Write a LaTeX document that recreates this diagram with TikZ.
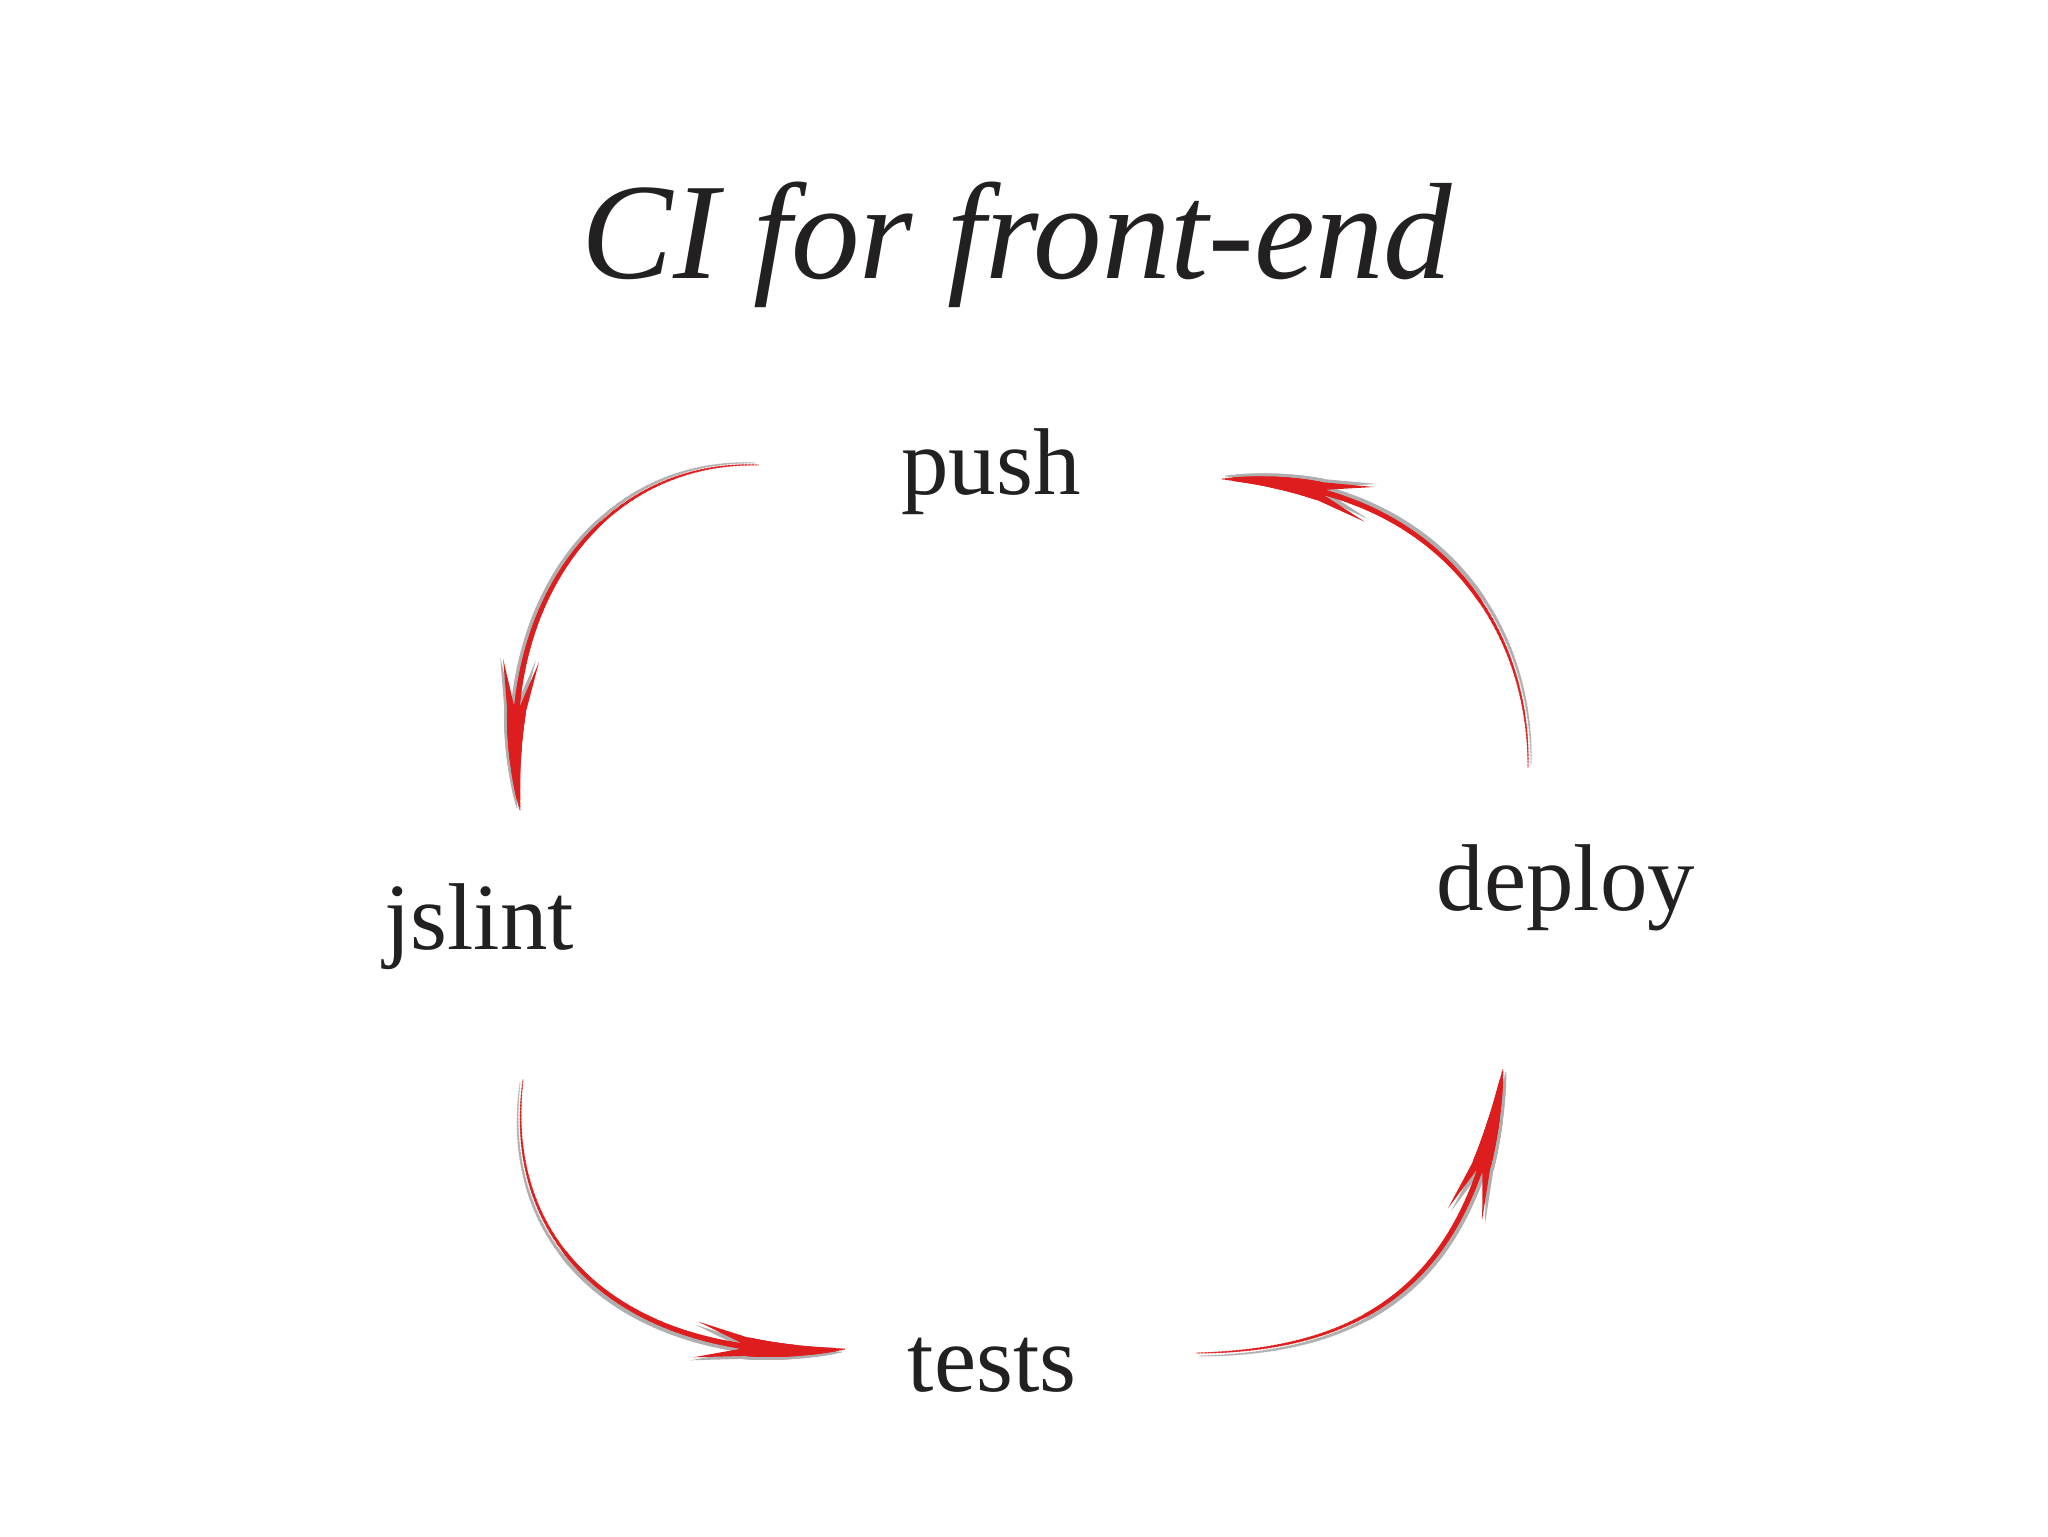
\documentclass[tikz,border=0pt]{standalone}
\usepackage{fontspec}
\setmainfont{Liberation Serif}
\usetikzlibrary{decorations.markings}
\definecolor{arrowred}{RGB}{222,30,30}
\definecolor{shadowgray}{RGB}{175,175,175}
\definecolor{inkgray}{RGB}{34,32,33}
\tikzset{
  taper/.style={
    postaction={decorate, decoration={markings,
      mark=between positions 0 and 1 step 0.4pt with {%
        \pgfmathsetmacro\swd{\pgfkeysvalueof{/pgf/decoration/mark info/distance from start}}%
        \pgfmathsetmacro\swe{max(\pgfdecoratedpathlength-\swd,0.01)}%
        \pgfmathsetmacro\swf{max(\swd/\pgfdecoratedpathlength,0.001)}%
        \pgfmathsetmacro\swr{\swe<28.45 ? 0.95*(\swe/28.45)^0.8 : 0.06+0.28*(\swf)^0.7}%
        \fill[#1] (0,0) circle[radius=\swr mm];}}},
    postaction={decorate, decoration={markings,
      mark=at position -28.45pt with {%
        \fill[#1] (3,9) -- (-50,18) -- (-6,3.5) -- cycle;
        \fill[#1] (3,-9) -- (-50,-18) -- (-6,-3.5) -- cycle;}}}
  },
  lbl/.style={anchor=base, inner sep=0pt, text=inkgray, font=\fontsize{27pt}{32pt}\selectfont},
  ttl/.style={anchor=base, inner sep=0pt, text=inkgray, font=\fontsize{39pt}{46pt}\selectfont\itshape}
}
\newcommand\swoosh[5]{%
  \path[taper=shadowgray] ([shift={#1}]#2) .. controls ([shift={#1}]#3) and ([shift={#1}]#4) .. ([shift={#1}]#5);
  \path[taper=arrowred] (#2) .. controls (#3) and (#4) .. (#5);
}
\begin{document}
\begin{tikzpicture}[x=0.1mm,y=-0.1mm]
\useasboundingbox (0,0) rectangle (2048,1536);
\fill[white] (0,0) rectangle (2048,1536);

\node[ttl] (title) at (1017,278) {CI for front-end};
\node[lbl] (push) at (991,494) {push};
\node[lbl] (deploy) at (1566,910) {deploy};
\node[lbl] (jslint) at (479,949) {jslint};
\node[lbl] (tests) at (992,1391) {tests};

% push -> jslint
\coordinate (a1s) at (758,465);
\coordinate (a1a) at (600,460);
\coordinate (a1b) at (490,610);
\coordinate (a1e) at (520,810);
% jslint -> tests
\coordinate (a2s) at (523,1080);
\coordinate (a2a) at (500,1260);
\coordinate (a2b) at (645,1365);
\coordinate (a2e) at (845,1349);
% tests -> deploy
\coordinate (a3s) at (1197,1353);
\coordinate (a3a) at (1380,1350);
\coordinate (a3b) at (1475,1269);
\coordinate (a3e) at (1503,1069);
% deploy -> push
\coordinate (a4s) at (1528,767);
\coordinate (a4a) at (1530,620);
\coordinate (a4b) at (1430,480);
\coordinate (a4e) at (1222,479);

\swoosh{(-3,-2)}{a1s}{a1a}{a1b}{a1e}
\swoosh{(-3,3)}{a2s}{a2a}{a2b}{a2e}
\swoosh{(3,3)}{a3s}{a3a}{a3b}{a3e}
\swoosh{(3,-3)}{a4s}{a4a}{a4b}{a4e}
\end{tikzpicture}
\end{document}
